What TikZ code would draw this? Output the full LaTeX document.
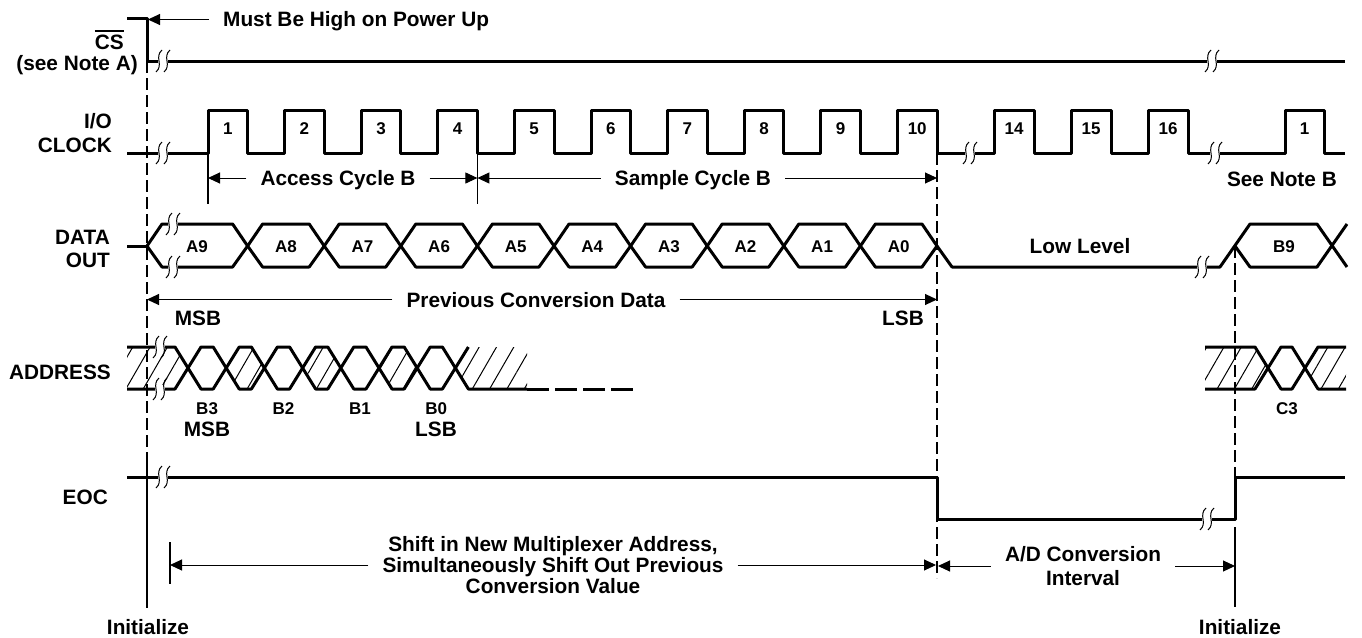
\documentclass[tikz,border=0pt]{standalone}
\usepackage{fontspec}
\setmainfont{Liberation Sans}
\usetikzlibrary{arrows.meta, patterns.meta}
\newcommand{\topbar}[1]{\vbox{\hrule height 2.2pt\kern2.5pt\hbox{#1}}}

\begin{document}
\begin{tikzpicture}[x=1pt, y=-1pt,
  sig/.style={line width=3pt, line join=round},
  guide/.style={line width=1.1pt, dash pattern=on 12pt off 5pt},
  tick/.style={line width=1.1pt},
  dim/.style={line width=1pt, -{Triangle[length=12pt, width=11pt]}},
  hatch/.style={pattern={Lines[angle=60, distance=15pt, line width=1pt]}},
  lbl/.style={font=\fontsize{20.8}{21}\selectfont\bfseries, inner sep=0pt, text height=15pt, text depth=0pt},
  signame/.style={lbl, anchor=east, align=right},
  small/.style={font=\fontsize{17}{20}\selectfont\bfseries, inner sep=0pt, text height=12.2pt, text depth=0pt},
  gapped/.style={lbl, inner xsep=14pt, align=center},
  brk/.pic={
    \fill[white] (-5,-4) rectangle (5,4);
    \draw[line width=1pt] (-1,-11) .. controls (-9,-4) and (1,4) .. (-7,11);
    \draw[line width=1pt] (7,-11) .. controls (-1,-4) and (9,4) .. (1,11);
  }]
  \useasboundingbox (0,0) rectangle (1362,637);

  \draw[guide] (147,61) -- (147,453);
  \draw[tick] (147,453) -- (147,608);
  \draw[guide] (937,153) -- (937,578);
  \draw[guide] (1235,246) -- (1235,519);
  \draw[tick] (1235,527) -- (1235,607);
  \draw[tick] (208,153) -- (208,204);
  \draw[tick] (477.4,153) -- (477.4,204);
  \draw[tick] (170,542) -- (170,584);

  \draw[sig] (127,18) -- (147,18) -- (147,61) -- (1345,61);
  \pic at (163,61) {brk};
  \pic at (1212,61) {brk};

  \draw[sig] (127,153) \foreach \k in {0,...,9} {
      -- ({208+76.6*\k},153) -- ({208+76.6*\k},110) -- ({247.6+76.6*\k},110) -- ({247.6+76.6*\k},153) }
    \foreach \r in {994,1071,1148} { -- (\r,153) -- (\r,110) -- ({\r+40},110) -- ({\r+40},153) }
    -- (1285,153) -- (1285,110) -- (1324,110) -- (1324,153) -- (1345,153);
  \pic at (163,153) {brk};
  \pic at (970,153) {brk};
  \pic at (1215,153) {brk};
  \foreach \k in {1,...,10} \node[small] (clk\k) at ({227.8+76.6*(\k-1)},128.5) {\k};
  \foreach \k in {14,15,16} \node[small] (clk\k) at ({1014+77*(\k-14)},128.5) {\k};
  \node[small] (clkB) at (1304.5,128.5) {1};

  \draw[sig] (127,246) -- (147,246);
  \draw[sig] (147,246) -- (162,224) -- (232.6,224) -- (247.6,246) -- (232.6,267) -- (162,267) -- cycle;
  \node[small] (a9) at (197,246) {A9};
  \foreach \k [evaluate=\k as \xa using 247.6+76.6*(\k-1), evaluate=\k as \xb using 247.6+76.6*\k, evaluate=\k as \nm using int(9-\k)] in {1,...,9} {
    \draw[sig] (\xa,246) -- ({\xa+15},224) -- ({\xb-15},224) -- (\xb,246) -- ({\xb-15},267) -- ({\xa+15},267) -- cycle;
    \node[small] (a\nm) at ({(\xa+\xb)/2},246) {A\nm};
  }
  \draw[sig] (937,246) -- (952,267) -- (1220,267) -- (1250,224) -- (1317,224) -- (1347,267);
  \draw[sig] (1235,246) -- (1250,267) -- (1317,267) -- (1347,224);
  \pic at (173,224) {brk};
  \pic at (173,267) {brk};
  \pic at (1202,267) {brk};
  \node[lbl] (low) at (1080,246) {Low Level};
  \node[small] (b9) at (1284,246) {B9};

  \draw[sig, hatch] (127,347) -- (175,347) -- (188,368) -- (175,389) -- (127,389);
  \foreach \j in {1,3,5}
    \draw[sig, hatch] ({188+38.2*\j},368) -- ({201+38.2*\j},347) -- ({213.2+38.2*\j},347) -- ({226.2+38.2*\j},368) -- ({213.2+38.2*\j},389) -- ({201+38.2*\j},389) -- cycle;
  \foreach \j/\b in {0/3,2/2,4/1,6/0} {
    \draw[sig] ({188+38.2*\j},368) -- ({201+38.2*\j},347) -- ({213.2+38.2*\j},347) -- ({226.2+38.2*\j},368) -- ({213.2+38.2*\j},389) -- ({201+38.2*\j},389) -- cycle;
    \node[small] (b\b) at ({207.1+38.2*\j},408) {B\b};
  }
  \fill[hatch] (455.4,368) -- (468.4,347) -- (527,347) -- (527,389) -- (468.4,389) -- cycle;
  \draw[sig] (455.4,368) -- (468.4,347);
  \draw[sig] (455.4,368) -- (468.4,389) -- (527,389);
  \draw[sig, dash pattern=on 22pt off 6pt] (527,389) -- (637,389);
  \pic at (160,347) {brk};
  \pic at (160,389) {brk};
  \node[lbl] (msbB) at (207,429) {MSB};
  \node[lbl] (lsbB) at (436,429) {LSB};

  \draw[sig, hatch] (1205,347) -- (1255,347) -- (1268,368) -- (1255,389) -- (1205,389);
  \draw[sig] (1268,368) -- (1281,347) -- (1292,347) -- (1305,368) -- (1292,389) -- (1281,389) -- cycle;
  \draw[sig, hatch] (1346,347) -- (1318,347) -- (1305,368) -- (1318,389) -- (1346,389);
  \node[small] (c3) at (1287,408) {C3};

  \draw[sig] (127,477) -- (937,477) -- (937,519) -- (1235,519) -- (1235,477) -- (1345,477);
  \pic at (163,477) {brk};
  \pic at (1207,519) {brk};

  \node[signame] (csname) at (124,41.5) {\topbar{CS}};
  \node[signame] (csnote) at (138,63) {(see Note A)};
  \node[signame] (io) at (112,121) {I/O};
  \node[signame] (clock) at (112,145) {CLOCK};
  \node[signame] (data) at (110,237) {DATA};
  \node[signame] (out) at (110,260) {OUT};
  \node[signame] (addr) at (111,372) {ADDRESS};
  \node[signame] (eoc) at (108,497) {EOC};

  \coordinate (tipCS) at (148,19.5);
  \node[gapped, anchor=west] (must) at (209,19.5) {Must Be High on Power Up};
  \draw[dim] (must) -- (tipCS);

  \coordinate (accL) at (208,178);
  \coordinate (accR) at (477.4,178);
  \coordinate (smpR) at (937,178);
  \node[gapped] (acc) at (338,178) {Access Cycle B};
  \node[gapped] (smp) at (693,178) {Sample Cycle B};
  \draw[dim] (acc) -- (accL);
  \draw[dim] (acc) -- (accR);
  \draw[dim] (smp) -- (accR);
  \draw[dim] (smp) -- (smpR);
  \node[lbl, anchor=east] (noteB) at (1337,179) {See Note B};

  \coordinate (prevL) at (147,299.5);
  \coordinate (prevR) at (937,299.5);
  \node[gapped] (prev) at (536,299.5) {Previous Conversion Data};
  \draw[dim] (prev) -- (prevL);
  \draw[dim] (prev) -- (prevR);
  \node[lbl] (msbA) at (198,318) {MSB};
  \node[lbl] (lsbA) at (903,318) {LSB};

  \coordinate (shL) at (170,565);
  \coordinate (shR) at (936,565);
  \coordinate (adL) at (938,566);
  \coordinate (adR) at (1235,566);
  \node[gapped, text height=57pt] (shift) at (553,565) {Shift in New Multiplexer Address,\\Simultaneously Shift Out Previous\\Conversion Value};
  \node[gapped, text height=39pt] (adc) at (1083,566) {A/D Conversion\\[3pt]Interval};
  \draw[dim] (shift) -- (shL);
  \draw[dim] (shift) -- (shR);
  \draw[dim] (adc) -- (adL);
  \draw[dim] (adc) -- (adR);

  \node[lbl] (initL) at (148,627) {Initialize};
  \node[lbl] (initR) at (1240,627) {Initialize};
\end{tikzpicture}
\end{document}
